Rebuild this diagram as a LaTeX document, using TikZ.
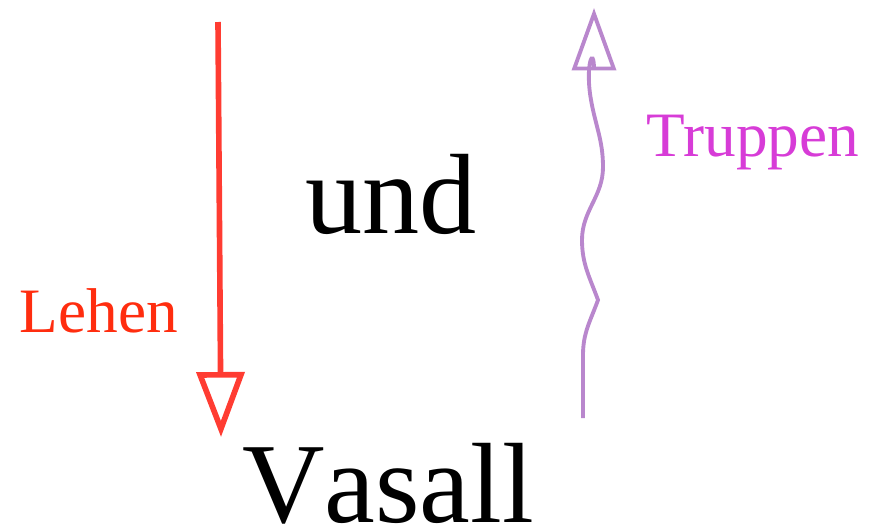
\documentclass[tikz,border=0pt]{standalone}
\usepackage{fontspec}
\setmainfont{Liberation Serif}
\newfontfamily\nokernfont[Kerning=Off]{Liberation Serif}
\usepackage{xcolor}
\usetikzlibrary{arrows.meta}
\definecolor{lehenred}{RGB}{255,45,15}
\definecolor{linered}{RGB}{255,60,50}
\definecolor{truppmag}{RGB}{215,60,215}
\definecolor{wavepurple}{RGB}{185,135,205}

\begin{document}
\begin{tikzpicture}[x=0.02cm,y=-0.02cm,
	bigword/.style={anchor=base,inner sep=0pt,text depth=0pt,font=\nokernfont\fontsize{65}{70}\selectfont},
	smallword/.style={anchor=base,font=\fontsize{36}{40}\selectfont}]
			\useasboundingbox (0,0) rectangle (875,528);
			\coordinate (L1) at (218,22);
			\coordinate (L2) at (221,437);
			\coordinate (T1) at (583,418);
			\coordinate (T2) at (594,8);
			
			\node[bigword] (und) at (391,233) {und};
			\node[bigword] (vasall) at (388,522) {Vasall};
			\node[smallword,text=lehenred] (lehen) at (99,332) {Lehen};
			\node[smallword,text=truppmag] (truppen) at (753,156) {Truppen};
			
			\draw[linered,line width=3.2pt,-{Triangle[open,length=1.3cm,width=0.95cm]}] (L1)--(L2);
			\draw[wavepurple,line width=2.2pt,-{Triangle[open,length=1.25cm,width=0.88cm]}]
			(T1)--(583,355) to[out=90,in=-110] (598,300) to[out=110,in=-90] (582,240)
			to[out=90,in=-90] (603,167) to[out=90,in=-80] (591,100) to[out=100,in=-90] (T2);
		\end{tikzpicture}
\end{document}
